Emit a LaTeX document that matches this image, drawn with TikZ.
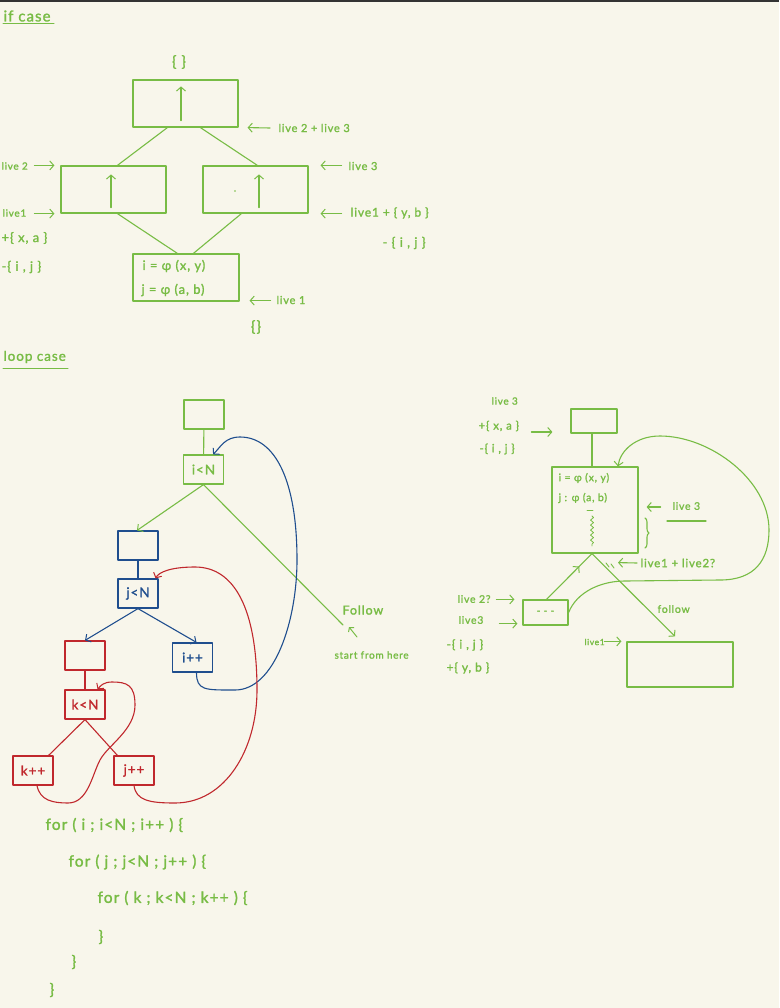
\documentclass[tikz,border=0pt]{standalone}
\usepackage{fontspec}
\setmainfont{Lato}[LetterSpace=7,FakeBold=1.5]
\usetikzlibrary{arrows.meta,calc,decorations.pathmorphing,decorations.pathreplacing,decorations.markings}
\definecolor{bg}{HTML}{F8F6EB}
\definecolor{gr}{HTML}{78BC45}
\definecolor{bl}{HTML}{1F4E8E}
\definecolor{rd}{HTML}{C0282D}
\newcommand{\fsz}[1]{\fontsize{#1}{#1}\selectfont}
\begin{document}
\begin{tikzpicture}[x=1pt,y=-1pt,
  line width=1.1pt, line cap=round, line join=round,
  tip/.style={-{Straight Barb[length=4pt,width=9pt,line width=1pt]}},
  midtip/.style={postaction={decorate},decoration={markings,mark=at position #1 with {\arrow{Straight Barb[length=4pt,width=9pt,line width=1pt]}}}},
  box/.style={draw, rectangle, inner sep=0pt, line width=1.2pt},
  gbox/.style={box, draw=gr, text=gr},
  bbox/.style={box, draw=bl, text=bl},
  rbox/.style={box, draw=rd, text=rd},
  sbox/.style={minimum width=40pt, minimum height=29pt, font=\fsz{13.5}},
  lbl/.style={text=gr, font=\fsz{11}, inner sep=0pt, anchor=west},
  code/.style={lbl, font=\fsz{15.5}}]
\fill[bg] (0,0) rectangle (779,1008);
\fill[black!80] (0,0) rectangle (779,2);
\useasboundingbox (0,0) rectangle (779,1008);

% ---------- if case ----------
\node[lbl, font=\fsz{15}] (ifc) at (3,16) {if case};
\draw[gr, line width=1pt] (3,24) -- (54,24);
\node[lbl, anchor=center, font=\fsz{15}] (e1) at (179,62) {\{ \}};
\node[gbox, minimum width=105pt, minimum height=47pt] (t) at (185.5,103.5) {};
\node[gbox, minimum width=105pt, minimum height=47pt] (l) at (113.5,189.5) {};
\node[gbox, minimum width=105pt, minimum height=47pt] (r) at (255.5,189.5) {};
\node[gbox, minimum width=106pt, minimum height=47pt] (b) at (186,277.5) {};
\node[lbl, font=\fsz{13}] (bt1) at (142,266) {i = φ (x, y)};
\node[lbl, font=\fsz{13}] (bt2) at (141,290) {j = φ (a, b)};
\draw[gr, tip] ([xshift=-4.5pt,yshift=7pt]t.south) -- ([xshift=-4.5pt,yshift=-7pt]t.north);
\draw[gr, tip] ([xshift=-2.5pt,yshift=6pt]l.south) -- ([xshift=-2.5pt,yshift=-9pt]l.north);
\draw[gr, tip] ([xshift=3.5pt,yshift=6pt]r.south) -- ([xshift=3.5pt,yshift=-9pt]r.north);
\fill[gr] (235,191) circle (0.8pt);
\draw[gr] ([xshift=35pt]t.south west) -- ([xshift=57pt]l.north west);
\draw[gr] ([xshift=68pt]t.south west) -- ([xshift=55pt]r.north west);
\draw[gr] ([xshift=57pt]l.south west) -- ([xshift=45pt]b.north west);
\draw[gr] ([xshift=39pt]r.south west) -- ([xshift=61pt]b.north west);

\node[lbl] (a1) at (278,128) {live 2 + live 3};
\draw[gr, tip] ([xshift=-8pt]a1.west) -- ([xshift=9pt]t.south east);
\node[lbl, font=\fsz{10}] (a2) at (1,166) {live 2};
\draw[gr, tip] ([xshift=-26pt]l.north west) -- ([xshift=-6pt]l.north west);
\node[lbl, font=\fsz{10}] (a3) at (2,213) {live1};
\draw[gr, tip] ([xshift=-26pt]l.south west) -- ([xshift=-6pt]l.south west);
\node[lbl, font=\fsz{13}] (a4) at (1,238) {+\{ x, a \}};
\node[lbl, font=\fsz{13}] (a5) at (1,267) {-\{ i , j \}};
\node[lbl] (a6) at (348,166) {live 3};
\draw[gr, tip] ([xshift=33pt]r.north east) -- ([xshift=12pt]r.north east);
\node[lbl, font=\fsz{12}] (a7) at (350,213) {live1 + \{ y, b \}};
\draw[gr, tip] ([xshift=33pt]r.south east) -- ([xshift=12pt]r.south east);
\node[lbl, font=\fsz{13}] (a8) at (382,243) {- \{ i , j \}};
\node[lbl] (a9) at (276,300) {live 1};
\draw[gr, tip] ([xshift=31pt,yshift=1pt]b.south east) -- ([xshift=10pt,yshift=1pt]b.south east);
\node[lbl, anchor=center, font=\fsz{15}] (e2) at (256,327) {\{\}};

% ---------- loop case ----------
\node[lbl, font=\fsz{13.5}] (lc) at (3,357) {loop case};
\draw[gr, line width=1pt] (3,368) -- (68,368);
\node[gbox, sbox] (g1) at (204,414.5) {};
\node[gbox, sbox] (iN) at (203.5,469.5) {i<N};
\draw[gr] (g1) -- (iN);
\node[bbox, sbox] (b1) at (138,545.5) {};
\node[bbox, sbox] (jN) at (138,593.5) {j<N};
\draw[bl] (b1) -- (jN);
\draw[gr, tip] (iN.south) -- ([xshift=-1pt]b1.north);
\coordinate (fl) at (343,625);
\draw[gr] (iN.south) -- (fl);
\node[lbl, font=\fsz{12.5}] (follow) at (342,610) {Follow};
\node[lbl, font=\fsz{10}] (sfh) at (334,655) {start from here};
\coordinate (sa) at (357,637);
\coordinate (sb) at (349,627);
\draw[gr, line width=1pt, -{Straight Barb[length=3pt,width=7pt]}] (sa) -- (sb);

\node[rbox, sbox] (r1) at (85,655.5) {};
\node[bbox, sbox] (ipp) at (192.5,657.5) {i++};
\draw[bl, tip] (jN.south) -- (r1.north);
\draw[bl, tip] (jN.south) -- ([xshift=4pt]ipp.north);
\node[rbox, sbox] (kN) at (85,704.5) {k<N};
\draw[rd] (r1) -- (kN);
\node[rbox, sbox] (kpp) at (33,770.5) {k++};
\node[rbox, sbox] (jpp) at (134,770.5) {j++};
\draw[rd] (kN.south) -- ([xshift=-5pt]kpp.north east);
\draw[rd] (kN.south) -- ([xshift=4pt]jpp.north west);

\draw[bl, tip] ([xshift=4pt]ipp.south) .. controls +(0,18) and +(-30,0) .. (235,690)
  .. controls +(40,0) and +(0,60) .. (297,560)
  .. controls +(0,-80) and +(35,0) .. (240,437)
  .. controls +(-15,0) and +(8,-8) .. ([xshift=-11pt]iN.north east);
\draw[rd, tip] (jpp.south) .. controls +(2,15) and +(-25,0) .. (175,803)
  .. controls +(50,0) and +(0,60) .. (257,690)
  .. controls +(0,-80) and +(40,0) .. (195,567)
  .. controls +(-25,0) and +(3,-6) .. ([xshift=-3pt]jN.north east);
\draw[rd, tip] ([xshift=4pt]kpp.south) .. controls +(3,15) and +(-15,0) .. (68,803)
  .. controls +(20,0) and +(-8,15) .. (100,760)
  .. controls +(8,-15) and +(0,25) .. (135,705)
  .. controls +(0,-20) and +(15,0) .. (112,682)
  .. controls +(-8,0) and +(3,-4) .. ([xshift=-8pt]kN.north east);

\node[code] (c1) at (45,825) {for ( i ; i<N ; i++ ) \{};
\node[code] (c2) at (68,862) {for ( j ; j<N ; j++ ) \{};
\node[code] (c3) at (97,898) {for ( k ; k<N ; k++ ) \{};
\node[code] (c4) at (98,937) {\}};
\node[code] (c5) at (71,962) {\}};
\node[code] (c6) at (49,990) {\}};

% ---------- right loop ----------
\node[gbox, minimum width=46pt, minimum height=24pt] (rt) at (594,421) {};
\node[gbox, minimum width=86pt, minimum height=86pt] (big) at (595,510) {};
\draw[gr] ([xshift=-2pt]rt.south) -- ([xshift=-3pt]big.north);
\node[lbl, font=\fsz{10.5}] (p1) at (558,478) {i = φ (x, y)};
\node[lbl, font=\fsz{10.5}] (p2) at (558,498) {j : φ (a, b)};
\draw[gr, line width=0.9pt] (587,510) -- (593,510);
\draw[gr, line width=0.8pt, decorate, decoration={snake, amplitude=1.5pt, segment length=5pt}] (592,516) -- (592,546);
\node[lbl, font=\fsz{10.5}] (q1) at (672,506) {live 3};
\draw[gr, tip] ([xshift=22pt,yshift=3pt]big.east) -- ([xshift=8pt,yshift=3pt]big.east);
\draw[gr] (667,521) -- (706,521);
\draw[gr, decorate, decoration={brace, amplitude=4pt}] (645,518) -- (645,548);
\node[lbl, font=\fsz{11.5}] (q2) at (640,563) {live1 + live2?};
\draw[gr, tip] ([xshift=-3pt]q2.west) -- ([xshift=23pt,yshift=-9pt]big.south);

\node[lbl, font=\fsz{10}] (q3) at (491,401) {live 3};
\node[lbl, font=\fsz{11.5}] (q4) at (478,426) {+\{ x, a \}};
\node[lbl, font=\fsz{11.5}] (q5) at (479,449) {-\{ i , j \}};
\draw[gr, tip] ([xshift=-39pt,yshift=-11pt]rt.west) -- ([xshift=-18pt,yshift=-11pt]rt.west);

\node[gbox, minimum width=45pt, minimum height=25pt, font=\fsz{10}] (dsh) at (545.5,612.5) {- - -};
\node[gbox, minimum width=106pt, minimum height=45pt] (fb) at (680,664.5) {};
\draw[gr, midtip=0.72] ([xshift=1pt]dsh.north) -- ([xshift=-3pt]big.south);
\draw[gr, tip] ([xshift=-3pt]big.south) -- ([xshift=-5pt,yshift=5pt]fb.north);
\draw[gr, line width=0.9pt] (606,563) -- (609,567);
\draw[gr, line width=0.9pt] (611,564) -- (614,568);
\node[lbl, font=\fsz{10.5}] (q6) at (657,609) {follow};
\draw[gr, tip] (dsh.east) .. controls +(8,-20) and +(-25,0) .. (625,581) -- (720,580)
  .. controls +(35,0) and +(0,30) .. (769,530)
  .. controls +(0,-50) and +(50,0) .. (660,436)
  .. controls +(-25,0) and +(2,-15) .. ([xshift=23pt]big.north);

\node[lbl, font=\fsz{10.5}] (q7) at (457,599) {live 2?};
\draw[gr, tip] ([xshift=-26pt]dsh.north west) -- ([xshift=-8pt]dsh.north west);
\node[lbl, font=\fsz{10.5}] (q8) at (458,620) {live3};
\draw[gr, tip] ([xshift=-23pt,yshift=2pt]dsh.south west) -- ([xshift=-5pt,yshift=2pt]dsh.south west);
\node[lbl, font=\fsz{12}] (q9) at (446,645) {-\{ i , j \}};
\node[lbl, font=\fsz{12}] (q10) at (446,668) {+\{ y, b \}};
\node[lbl, font=\fsz{8.5}] (q11) at (584,642) {live1};
\draw[gr, tip] ([xshift=-22pt]fb.north west) -- ([xshift=-5pt]fb.north west);
\end{tikzpicture}
\end{document}
